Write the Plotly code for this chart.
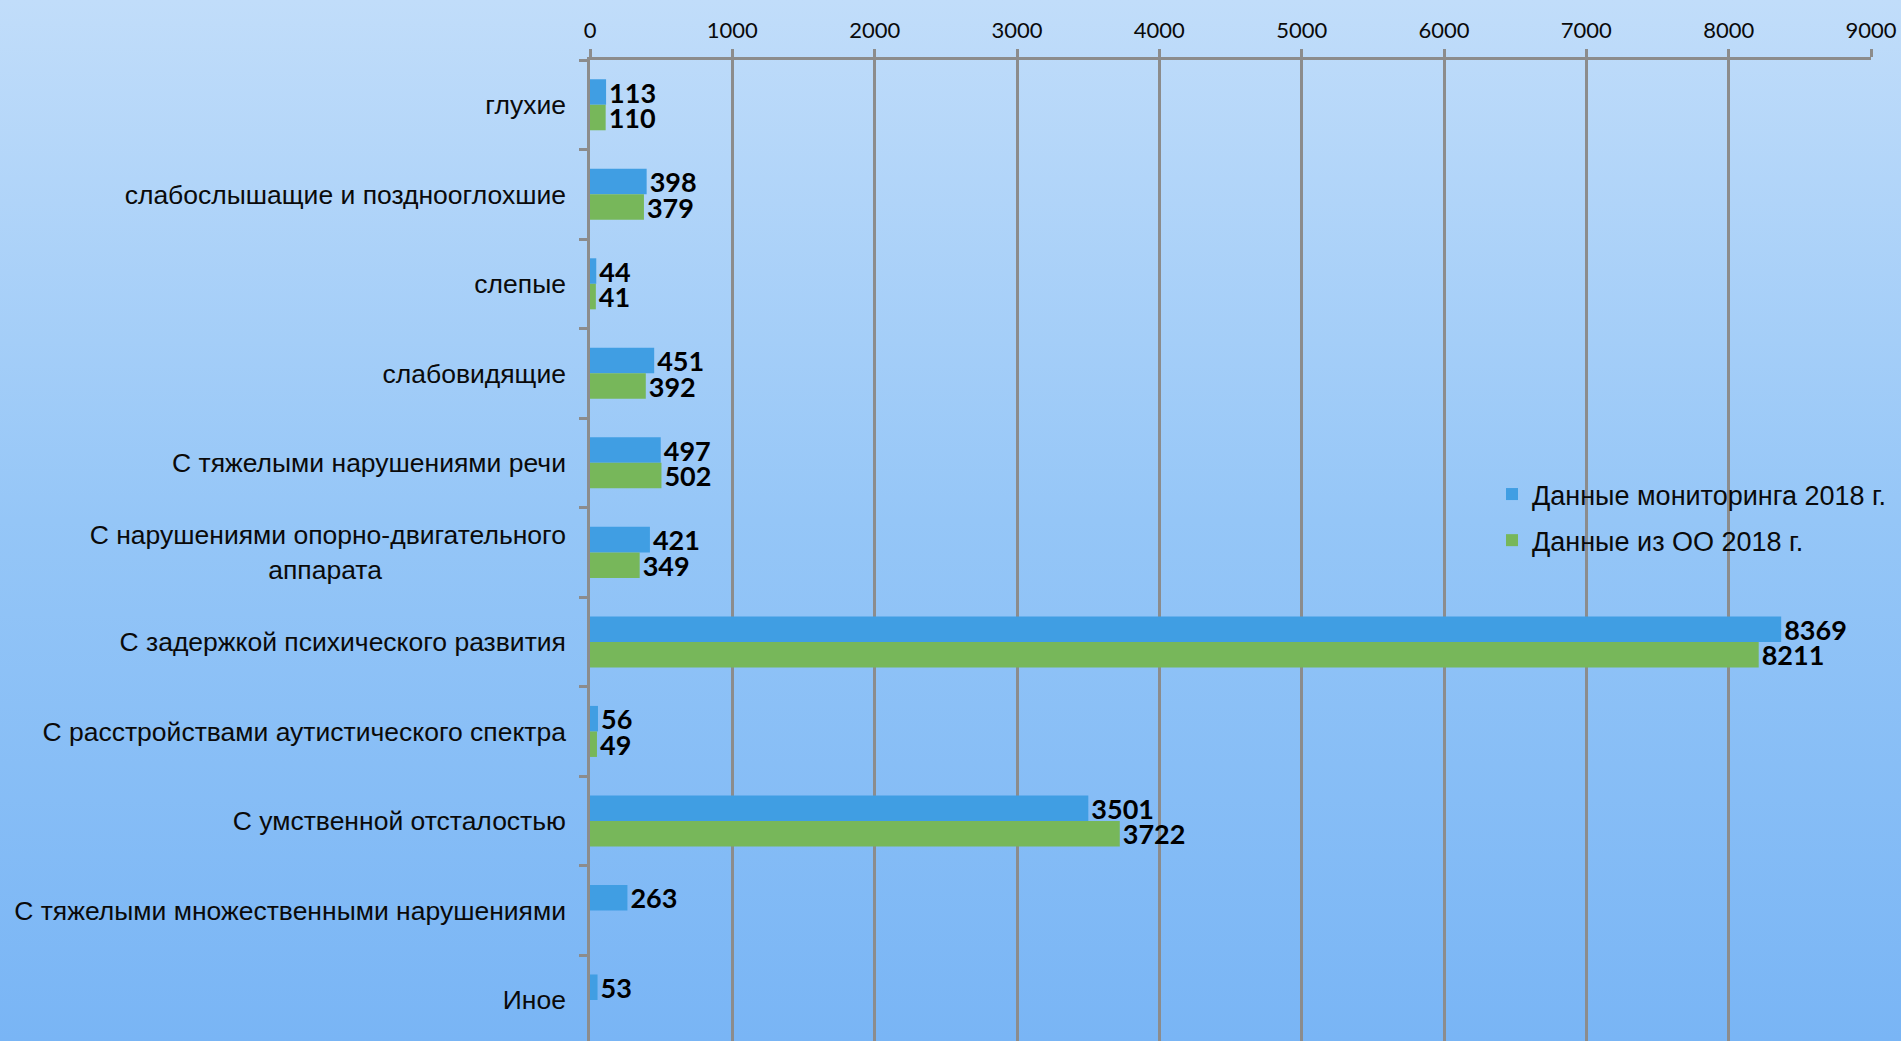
import base64
import plotly.graph_objects as go

# ---------------- data ----------------
categories = [
    "глухие",
    "слабослышащие и позднооглохшие",
    "слепые",
    "слабовидящие",
    "С тяжелыми нарушениями речи",
    "С нарушениями опорно-двигательного<br>аппарата",
    "С задержкой психического развития",
    "С расстройствами аутистического спектра",
    "С умственной отсталостью",
    "С тяжелыми множественными нарушениями",
    "Иное",
]
monitoring_2018 = [113, 398, 44, 451, 497, 421, 8369, 56, 3501, 263, 53]
oo_2018 = [110, 379, 41, 392, 502, 349, 8211, 49, 3722, None, None]
series_names = ["Данные мониторинга 2018 г.", "Данные из ОО 2018 г."]
x_tick_values = [0, 1000, 2000, 3000, 4000, 5000, 6000, 7000, 8000, 9000]

# ---------------- style ----------------
W, H = 1901, 1041
ML, MR, MT, MB = 590, 30, 60, 0
PW, PH = W - ML - MR, H - MT - MB
BLUE = "#409ee3"
GREEN = "#77b75a"
GRID = "#8c8c8c"
TXT = "#0a0a0a"


def centered_label(label):
    # emulate centred multi-line category labels (Excel style)
    if "<br>" in label:
        first, second = label.split("<br>")
        return first + "<br>" + second + "\u00a0" * 25
    return label


tick_text = [centered_label(c) for c in categories]

grad_svg = (
    '<svg xmlns="http://www.w3.org/2000/svg" width="100" height="100" '
    'preserveAspectRatio="none" viewBox="0 0 100 100">'
    '<defs><linearGradient id="g" x1="0" y1="0" x2="0" y2="1">'
    '<stop offset="0" stop-color="#c1ddfa"/>'
    '<stop offset="0.5" stop-color="#95c6f7"/>'
    '<stop offset="1" stop-color="#79b5f5"/>'
    '</linearGradient></defs>'
    '<rect width="100" height="100" fill="url(#g)"/></svg>'
)
grad_uri = "data:image/svg+xml;base64," + base64.b64encode(grad_svg.encode()).decode()


def labels(vals):
    return ["" if v is None else str(v) for v in vals]


label_font = dict(family="Lato", size=27, color="#000000", weight="bold")

fig = go.Figure()
for name, vals, col, grp in [
    (series_names[0], monitoring_2018, BLUE, "a"),
    (series_names[1], oo_2018, GREEN, "b"),
]:
    fig.add_trace(
        go.Bar(
            y=categories,
            x=vals,
            orientation="h",
            name=name,
            legendgroup=grp,
            marker=dict(color=col, line=dict(width=0)),
            text=labels(vals),
            texttemplate="%{text}",
            textposition="outside",
            textfont=label_font,
            constraintext="none",
            cliponaxis=False,
            hoverinfo="skip",
        )
    )

fig.update_layout(
    width=W,
    height=H,
    margin=dict(l=ML, r=MR, t=MT, b=MB, pad=0),
    paper_bgcolor="#9fcbf8",
    plot_bgcolor="rgba(0,0,0,0)",
    barmode="group",
    bargap=0.43,
    bargroupgap=0,
    showlegend=True,
    legend=dict(
        x=(1492 - ML) / PW,
        y=(H - 470) / PH,
        xanchor="left",
        yanchor="top",
        bgcolor="rgba(0,0,0,0)",
        font=dict(family="Liberation Sans, Arial", size=27, color=TXT),
        traceorder="grouped",
        tracegroupgap=8,
        itemclick=False,
        itemdoubleclick=False,
    ),
    xaxis=dict(
        side="top",
        range=[0, 9000],
        tickvals=x_tick_values,
        ticktext=[str(v) for v in x_tick_values],
        showgrid=True,
        gridcolor=GRID,
        gridwidth=2.5,
        showline=True,
        linecolor=GRID,
        linewidth=2.5,
        ticks="outside",
        ticklen=8,
        tickwidth=2.5,
        tickcolor=GRID,
        zeroline=False,
        tickfont=dict(family="Lato", size=22, color=TXT),
        ticklabelstandoff=2,
    ),
    yaxis=dict(
        type="category",
        categoryorder="array",
        categoryarray=categories,
        range=[len(categories) - 0.542, -0.5],
        tickvals=categories,
        ticktext=tick_text,
        showgrid=False,
        showline=True,
        linecolor=GRID,
        linewidth=2.5,
        ticks="outside",
        tickson="boundaries",
        ticklen=8,
        tickwidth=2.5,
        tickcolor=GRID,
        zeroline=False,
        tickfont=dict(family="Liberation Sans, Arial", size=26.5, color=TXT),
        ticklabelstandoff=16,
    ),
    images=[
        dict(
            source=grad_uri,
            xref="paper",
            yref="paper",
            x=-ML / PW,
            y=1 + MT / PH,
            sizex=W / PW,
            sizey=H / PH,
            xanchor="left",
            yanchor="top",
            sizing="stretch",
            layer="below",
        )
    ],
)

fig.write_html(
    "out.html",
    config={"displayModeBar": False},
    post_script="document.body.style.margin='0';document.body.style.overflow='hidden';",
)
